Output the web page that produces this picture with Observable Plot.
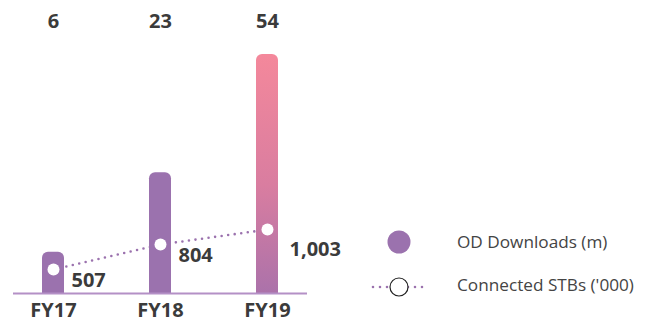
<!DOCTYPE html>
<html><head><meta charset="utf-8">
<script src="https://cdn.jsdelivr.net/npm/d3@7"></script>
<script src="https://cdn.jsdelivr.net/npm/@observablehq/plot@0.6"></script>
<style>
body{margin:0;background:#fff;}
#wrap{position:relative;width:648px;height:322px;overflow:hidden;}
#legend{position:absolute;left:0;top:0;}
</style>
</head><body><div id="wrap"></div>
<script>
const years = ["FY17", "FY18", "FY19"];
const downloads = [6, 23, 54];
const stbs = [507, 804, 1003];
const stbLabels = ["507", "804", "1,003"];
const seriesNames = ["OD Downloads (m)", "Connected STBs ('000)"];

const purple = "#9b72ae";
const textColor = "#3b3b3b";
const data = years.map((year, i) => ({year, downloads: downloads[i], stb: stbs[i], stbLabel: stbLabels[i]}));
// secondary scale: connected STBs expressed in the primary y units
const stbToY = d3.scaleLinear().domain([500, 1000]).range([2.95, 10.35]);
const isLast = d => d.year === years[years.length - 1];
const H = 322, marginTop = 54, marginBottom = 29;

const labelFont = {fontSize: 20, fontWeight: "bold", fill: textColor};

const plot = Plot.plot({
  width: 648, height: H,
  marginLeft: 13, marginRight: 341, marginTop, marginBottom,
  x: {domain: years, paddingInner: 0.794, paddingOuter: 0.27, axis: null},
  y: {type: "pow", exponent: 0.8, domain: [0, 54], axis: null},
  style: {fontFamily: "'Open Sans', sans-serif", background: "white", overflow: "visible"},
  marks: [
    Plot.lineY(data, {x: "year", y: d => stbToY(d.stb), stroke: purple, strokeWidth: 2.6, strokeDasharray: "0 6.6", strokeLinecap: "round"}),
    Plot.barY(data, {filter: d => !isLast(d), x: "year", y: "downloads", fill: purple, rx: 6}),
    Plot.barY(data, {filter: d => !isLast(d), x: "year", y: d => d.downloads / 2, fill: purple}),
    Plot.barY(data, {filter: isLast, x: "year", y: "downloads", fill: "url(#g19)", rx: 6}),
    Plot.barY(data, {filter: isLast, x: "year", y: d => d.downloads / 2, fill: "url(#g19)"}),
    Plot.ruleY([0], {stroke: "#b490c6", strokeWidth: 2}),
    Plot.dot(data, {x: "year", y: d => stbToY(d.stb), r: 6, fill: "white", stroke: "none"}),
    Plot.text(data, {x: "year", text: d => String(d.downloads), frameAnchor: "top", dy: -41, ...labelFont}),
    Plot.text(data, {x: "year", text: "year", frameAnchor: "bottom", dy: 23.5, ...labelFont}),
    Plot.text(data, {filter: d => !isLast(d), x: "year", y: d => stbToY(d.stb), text: "stbLabel", textAnchor: "start", dx: 18, dy: 11, ...labelFont}),
    Plot.text(data, {filter: isLast, x: "year", y: d => stbToY(d.stb), text: "stbLabel", textAnchor: "start", dx: 22, dy: 20, ...labelFont})
  ]
});

const svg = d3.select(plot);
const defs = svg.insert("defs", ":first-child");
const g1 = defs.append("linearGradient").attr("id", "g19").attr("gradientUnits", "userSpaceOnUse")
  .attr("x1", 0).attr("y1", marginTop).attr("x2", 0).attr("y2", H - marginBottom);
g1.append("stop").attr("offset", "0%").attr("stop-color", "#f4889b");
g1.append("stop").attr("offset", "55%").attr("stop-color", "#d97da0");
g1.append("stop").attr("offset", "100%").attr("stop-color", "#ab72aa");

const wrap = document.getElementById("wrap");
wrap.appendChild(plot);

// legend
const lg = d3.select(wrap).append("svg").attr("id", "legend").attr("width", 648).attr("height", 322)
  .style("font-family", "'Open Sans', sans-serif");
lg.append("circle").attr("cx", 399).attr("cy", 242).attr("r", 11.5).attr("fill", purple);
lg.append("text").attr("x", 457).attr("y", 242).attr("dy", "0.35em").attr("font-size", 17.2).attr("fill", "#444").text(seriesNames[0]);
lg.append("line").attr("x1", 373).attr("x2", 427).attr("y1", 287).attr("y2", 287)
  .attr("stroke", purple).attr("stroke-width", 2.6).attr("stroke-dasharray", "0 7").attr("stroke-linecap", "round");
lg.append("circle").attr("cx", 399).attr("cy", 287).attr("r", 9).attr("fill", "white").attr("stroke", "#222").attr("stroke-width", 1.2);
lg.append("text").attr("x", 457).attr("y", 285).attr("dy", "0.35em").attr("font-size", 17.2).attr("fill", "#444").text(seriesNames[1]);
</script>
</body></html>
